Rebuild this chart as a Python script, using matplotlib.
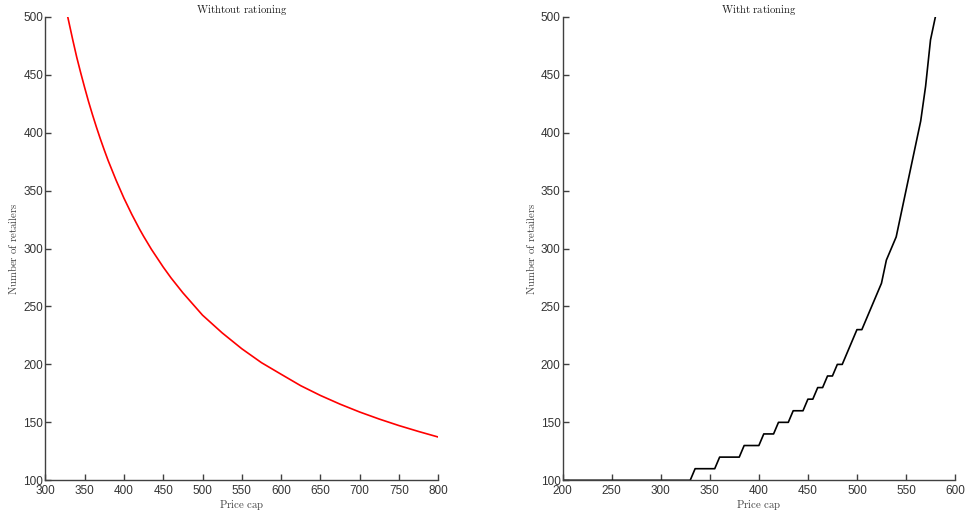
import matplotlib
matplotlib.use("Agg")
import matplotlib.pyplot as plt

plt.rcParams['font.family'] = ['Liberation Sans', 'DejaVu Sans']
plt.rcParams['mathtext.fontset'] = 'cm'

# Left panel: without rationing
price_left = [328.5, 335, 340, 345, 350, 355, 360, 365, 370, 375, 380, 390, 400, 410,
              420, 425, 435, 450, 460, 475, 500, 525, 550, 575, 600, 625, 650, 675,
              700, 725, 750, 775, 800]
retailers_left = [500, 479.8, 465, 451.7, 439, 426.8, 415.5, 404.8, 394.6, 385, 375.8,
                  359, 343.5, 329.5, 316.6, 310.6, 299.3, 284, 274.6, 261.8, 242.5,
                  227.2, 213.5, 201.5, 191.5, 181.6, 173.2, 165.7, 158.9, 152.8,
                  147.2, 142.1, 137.3]

# Right panel: with rationing
price_right = [200, 330, 335, 355, 360, 380, 385, 400, 405, 415, 420, 430, 435, 445,
               450, 455, 460, 465, 470, 475, 480, 485, 500, 505, 525, 530, 540,
               565, 570, 575, 580]
retailers_right = [100, 100, 110, 110, 120, 120, 130, 130, 140, 140, 150, 150, 160, 160,
                   170, 170, 180, 180, 190, 190, 200, 200, 230, 230, 270, 290, 310,
                   410, 440, 480, 500]

titles = ['Withtout rationing', 'Witht rationing']
xlabel = 'Price cap'
ylabel = 'Number of retailers'
left_xticks = [300, 350, 400, 450, 500, 550, 600, 650, 700, 750, 800]
right_xticks = [200, 250, 300, 350, 400, 450, 500, 550, 600]
yticks = [100, 150, 200, 250, 300, 350, 400, 450, 500]

fig = plt.figure(figsize=(9.68, 5.16), dpi=100)
ax1 = fig.add_axes([0.0468, 0.0692, 0.4060, 0.8984])
ax2 = fig.add_axes([0.5813, 0.0692, 0.4053, 0.8984])

ax1.plot(price_left, retailers_left, color='#ff0000', lw=1.2)
ax2.plot(price_right, retailers_right, color='#000000', lw=1.2)

def mt(s):
    return r'$\mathrm{' + s.replace(' ', r'\ ') + '}$'

for ax, t, xt, xl in [(ax1, titles[0], left_xticks, (300, 800)),
                      (ax2, titles[1], right_xticks, (200, 600))]:
    ax.set_xlim(*xl)
    ax.set_ylim(100, 500)
    ax.set_xticks(xt)
    ax.set_yticks(yticks)
    for s in ['top', 'right']:
        ax.spines[s].set_visible(False)
    for s in ['left', 'bottom']:
        ax.spines[s].set_color('#404040')
        ax.spines[s].set_linewidth(1.0)
    ax.tick_params(direction='in', length=4, width=1.0, color='#404040',
                   labelsize=8.5, labelcolor='#333333')
    ax.tick_params(axis='y', pad=1.5)
    ax.tick_params(axis='x', pad=3.5)
    ax.set_title(mt(t), fontsize=7.8, color='#222222', pad=2.5)
    ax.set_xlabel(mt(xlabel), fontsize=7.8, color='#444444', labelpad=0.5)
    ax.set_ylabel(mt(ylabel), fontsize=7.8, color='#444444', labelpad=3)

fig.savefig('out.png', dpi=100)
